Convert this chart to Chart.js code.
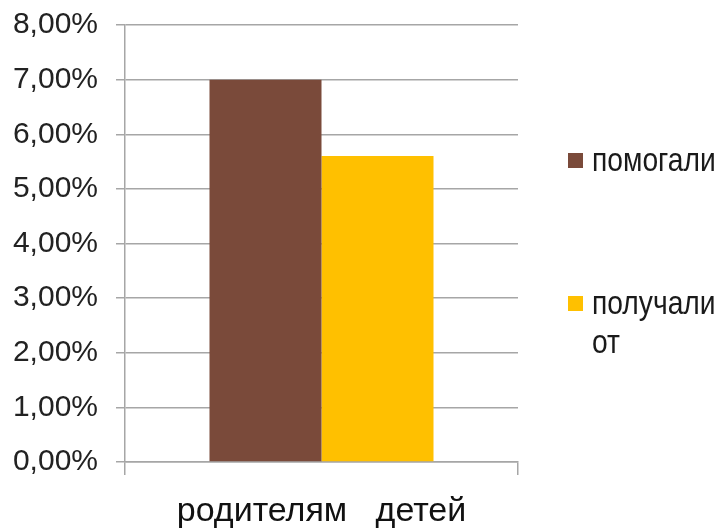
<!DOCTYPE html>
<html>
<head>
<meta charset="utf-8">
<script src="https://cdn.jsdelivr.net/npm/chart.js@4"></script>
<style>
  body { margin: 0; background: #fff; }
  #wrap { position: relative; width: 722px; height: 531px; }
  .leg { position: absolute; left: 568px; width: 154px; font-family: "Liberation Sans", Arial, sans-serif; font-size: 34px; line-height: 39px; color: #1a1a1a; }
  .leg span.box { position: absolute; left: 0; width: 15px; height: 15px; }
  .leg div.txt { margin-left: 24px; width: 155px; transform: scaleX(0.83); transform-origin: left top; }
</style>
</head>
<body>
<div id="wrap">
  <canvas id="chart"></canvas>
  <div id="legend"></div>
</div>
<script>
const categories = ['родителям   детей'];
const seriesNames = ['помогали', 'получали от'];
const helped = [7.0];
const received = [5.6];
const colors = ['#7A4A3A', '#FFC000'];

const grey = '#A6A6A6';

const chart = new Chart(document.getElementById('chart'), {
  type: 'bar',
  data: {
    labels: categories,
    datasets: [
      { label: seriesNames[0], data: helped, backgroundColor: colors[0] },
      { label: seriesNames[1], data: received, backgroundColor: colors[1] }
    ]
  },
  options: {
    responsive: true,
    maintainAspectRatio: false,
    animation: false,
    layout: { padding: { left: 0, right: 204, top: 25, bottom: 0 } },
    datasets: { bar: { categoryPercentage: 0.57, barPercentage: 1 } },
    plugins: { legend: { display: false }, tooltip: { enabled: false } },
    scales: {
      x: {
        grid: { drawOnChartArea: false, color: grey, lineWidth: 1.5, tickLength: 13 },
        border: { color: grey, width: 1.5 },
        ticks: { color: '#111', font: { family: 'Liberation Sans, Arial', size: 34, lineHeight: 1 }, padding: 20 },
        afterFit: s => { s.height = 69; s.paddingLeft = 0; s.paddingRight = 0; }
      },
      y: {
        min: 0, max: 8,
        grid: { color: grey, lineWidth: 1.5, tickLength: 9 },
        border: { color: grey, width: 1.5 },
        ticks: {
          stepSize: 1,
          color: '#222',
          padding: 18,
          font: { family: 'Liberation Sans, Arial', size: 30 },
          callback: v => v.toFixed(2).replace('.', ',') + '%'
        },
        afterFit: s => { s.width = 125; s.paddingTop = 0; s.paddingBottom = 0; }
      }
    }
  }
});

// legend as html, items spaced like the original
const legend = document.getElementById('legend');
const tops = [140, 283];
chart.data.datasets.forEach((ds, i) => {
  const item = document.createElement('div');
  item.className = 'leg';
  item.style.top = tops[i] + 'px';
  const box = document.createElement('span');
  box.className = 'box';
  box.style.background = ds.backgroundColor;
  box.style.top = '13px';
  const txt = document.createElement('div');
  txt.className = 'txt';
  txt.textContent = ds.label;
  item.appendChild(box);
  item.appendChild(txt);
  legend.appendChild(item);
});
</script>
</body>
</html>
